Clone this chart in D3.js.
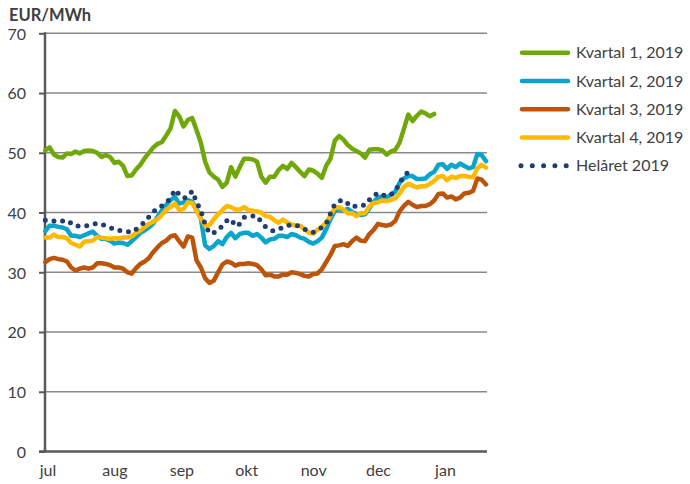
<!DOCTYPE html>
<html>
<head>
<meta charset="utf-8">
<script src="https://cdn.jsdelivr.net/npm/d3@7"></script>
<style>
  html, body { margin: 0; padding: 0; background: #fff; }
  svg { display: block; font-family: Lato, "Open Sans", sans-serif; }
</style>
</head>
<body>
<svg id="chart" width="690" height="484"></svg>
<script>
// Trading dates, every second day from 30 Jun 2019 to 20 Jan 2020
const dates = d3.timeDay.range(new Date(2019, 5, 30), new Date(2020, 0, 21), 2);

const monthTicks = [
  new Date(2019, 6, 1), new Date(2019, 7, 1), new Date(2019, 8, 1),
  new Date(2019, 9, 1), new Date(2019, 10, 1), new Date(2019, 11, 1),
  new Date(2020, 0, 1)
];
const monthLabels = ["jul", "aug", "sep", "okt", "nov", "dec", "jan"];
const yTicks = [0, 10, 20, 30, 40, 50, 60, 70];

const seriesNames = ["Kvartal 1, 2019", "Kvartal 2, 2019", "Kvartal 3, 2019", "Kvartal 4, 2019", "Helåret 2019"];

const kvartal1 = [
  50.4, 50.9, 49.7, 49.3, 49.2, 49.9, 49.8, 50.2, 49.9, 50.3,
  50.4, 50.3, 50.0, 49.3, 49.6, 49.3, 48.3, 48.5, 47.8, 46.1,
  46.2, 47.2, 48.0, 49.1, 50.0, 50.9, 51.5, 51.8, 52.9, 54.1,
  57.0, 56.1, 54.4, 55.5, 55.8, 53.8, 51.7, 48.5, 46.7, 46.0,
  45.5, 44.3, 45.0, 47.6, 46.0, 47.6, 49.0, 49.0, 48.9, 48.5,
  46.0, 45.0, 46.0, 46.0, 47.1, 47.8, 47.3, 48.3, 47.6, 46.8,
  46.1, 47.2, 47.0, 46.5, 45.8, 47.8, 49.0, 52.0, 52.8, 52.2,
  51.3, 50.7, 50.3, 49.9, 49.2, 50.5, 50.6, 50.6, 50.4, 49.7,
  50.2, 50.5, 51.7, 54.0, 56.4, 55.3, 56.2, 56.9, 56.6, 56.1,
  56.5, null, null, null, null, null, null, null, null, null,
  null, null, null
];

const kvartal2 = [
  36.9, 37.8, 37.8, 37.6, 37.5, 37.2, 36.1, 36.1, 35.9, 36.2,
  36.5, 36.8, 36.1, 35.6, 35.6, 35.3, 34.8, 35.0, 34.9, 34.6,
  35.2, 35.9, 36.6, 37.0, 37.5, 38.2, 39.3, 40.4, 41.3, 42.1,
  42.6, 41.5, 41.7, 42.1, 41.8, 40.6, 39.0, 34.5, 33.9, 34.4,
  35.2, 34.7, 35.9, 36.6, 35.7, 36.4, 36.6, 36.6, 36.1, 36.4,
  35.8, 35.0, 35.5, 35.6, 36.1, 36.1, 35.9, 36.4, 36.2, 35.8,
  35.6, 35.1, 34.8, 35.2, 35.8, 37.2, 38.9, 40.3, 40.6, 40.3,
  40.6, 40.1, 39.7, 39.6, 39.7, 40.7, 41.8, 42.5, 42.7, 42.5,
  43.0, 43.5, 45.0, 45.7, 46.1, 46.1, 45.6, 45.6, 45.7, 46.4,
  46.8, 48.0, 48.1, 47.3, 48.0, 47.6, 48.2, 47.8, 47.4, 47.6,
  49.8, 49.6, 48.6
];

const kvartal3 = [
  31.7, 32.2, 32.4, 32.2, 32.1, 31.8, 30.8, 30.3, 30.6, 30.8,
  30.6, 30.8, 31.5, 31.5, 31.4, 31.2, 30.8, 30.8, 30.6, 30.0,
  29.8, 30.7, 31.4, 31.8, 32.4, 33.4, 34.2, 34.9, 35.3, 36.0,
  36.2, 35.2, 34.3, 36.0, 35.8, 32.0, 30.8, 29.0, 28.2, 28.6,
  30.0, 31.3, 31.8, 31.6, 31.1, 31.4, 31.4, 31.5, 31.4, 31.2,
  30.5, 29.5, 29.6, 29.3, 29.3, 29.6, 29.6, 30.0, 29.9, 29.7,
  29.4, 29.3, 29.7, 29.8, 30.5, 31.7, 32.9, 34.4, 34.5, 34.7,
  34.4, 35.2, 35.8, 35.3, 35.2, 36.4, 37.1, 38.1, 37.9, 37.8,
  38.0, 38.6, 40.2, 41.1, 41.8, 41.3, 40.9, 41.1, 41.1, 41.4,
  42.0, 43.1, 43.2, 42.5, 42.7, 42.2, 42.5, 43.2, 43.3, 43.6,
  45.7, 45.5, 44.7
];

const kvartal4 = [
  35.8, 35.8, 36.3, 35.9, 35.9, 35.7, 34.9, 34.6, 34.3, 35.1,
  35.2, 35.3, 35.9, 35.8, 35.7, 35.6, 35.7, 35.7, 35.8, 35.8,
  36.0, 36.6, 37.0, 37.6, 38.1, 38.5, 38.9, 39.6, 40.5, 40.9,
  41.5, 40.4, 40.6, 41.7, 41.6, 40.3, 39.0, 37.8, 37.9, 38.9,
  39.7, 40.4, 41.1, 40.9, 40.5, 40.5, 40.9, 40.4, 40.3, 40.2,
  40.0, 39.4, 39.3, 38.7, 38.3, 38.8, 38.3, 38.0, 37.8, 37.8,
  37.2, 36.6, 36.5, 37.1, 37.6, 38.3, 39.5, 40.8, 40.9, 40.5,
  39.9, 39.9, 39.4, 39.9, 39.9, 41.0, 41.6, 41.7, 42.0, 41.9,
  42.1, 42.4, 43.2, 44.3, 44.8, 44.5, 44.2, 44.4, 44.4, 44.8,
  45.3, 46.0, 46.1, 45.4, 46.0, 45.8, 46.1, 46.1, 46.0, 45.9,
  47.4, 48.0, 47.5
];

const helaret = [
  38.7, 38.7, 38.6, 38.5, 38.6, 38.7, 38.2, 37.7, 37.8, 37.8,
  37.8, 38.0, 38.2, 38.0, 37.8, 37.5, 37.1, 37.0, 36.9, 36.8,
  36.7, 37.2, 37.8, 38.4, 39.3, 40.1, 40.8, 41.1, 41.7, 42.4,
  43.8, 43.0, 42.4, 42.7, 43.6, 41.8, 40.3, 38.0, 36.5, 36.6,
  37.0, 37.8, 38.6, 38.9, 37.7, 38.1, 39.2, 39.4, 39.4, 39.4,
  38.4, 37.6, 37.1, 36.9, 37.2, 37.5, 37.8, 38.0, 37.9, 37.6,
  37.2, 36.8, 36.7, 37.0, 37.5, 38.1, 39.8, 41.4, 41.9, 42.1,
  41.5, 40.9, 41.1, 41.3, 41.2, 42.1, 42.8, 43.3, 43.0, 42.7,
  43.0, 43.5, 45.0, 46.0, 46.8, 46.6, null, null, null, null,
  null, null, null, null, null, null, null, null, null, null,
  null, null, null
];

const series = [
  { name: seriesNames[0], values: kvartal1, color: "#70A80A", dotted: false },
  { name: seriesNames[1], values: kvartal2, color: "#0AA5CB", dotted: false },
  { name: seriesNames[2], values: kvartal3, color: "#BC5509", dotted: false },
  { name: seriesNames[3], values: kvartal4, color: "#FFBA00", dotted: false },
  { name: seriesNames[4], values: helaret, color: "#1F3D73", dotted: true }
];

const svg = d3.select("#chart");
const plotLeft = 45, plotRight = 487, plotTop = 33.3, plotBottom = 451.5;

const x = d3.scaleTime()
  .domain([new Date(2019, 5, 30), new Date(2020, 0, 20)])
  .range([45.3, 486]);
const y = d3.scaleLinear().domain([0, 70]).range([plotBottom, plotTop]);

// Horizontal gridlines
svg.append("g")
  .selectAll("line")
  .data(yTicks.filter(v => v > 0))
  .join("line")
  .attr("x1", plotLeft).attr("x2", plotRight)
  .attr("y1", d => y(d)).attr("y2", d => y(d))
  .attr("stroke", "#8a8a8a").attr("stroke-width", 1.5);

// Y axis with outward ticks
const yAxis = d3.axisLeft(y).tickValues(yTicks).tickSize(6).tickPadding(13).tickFormat(d3.format("d"));
const gy = svg.append("g").attr("transform", `translate(${plotLeft},0)`).call(yAxis);
gy.select(".domain").remove();
gy.selectAll(".tick line").attr("stroke", "#595959").attr("stroke-width", 2);
gy.selectAll(".tick text")
  .attr("fill", "#404040")
  .attr("dy", "0.36em")
  .style("font-size", "16px")
  .style("font-family", "Lato, 'Open Sans', sans-serif");

// Axis lines
svg.append("line").attr("x1", plotLeft).attr("x2", plotLeft).attr("y1", plotTop - 1).attr("y2", plotBottom)
  .attr("stroke", "#595959").attr("stroke-width", 2.5);
svg.append("line").attr("x1", plotLeft - 6).attr("x2", plotRight).attr("y1", plotBottom).attr("y2", plotBottom)
  .attr("stroke", "#595959").attr("stroke-width", 2.5);

// Month labels along the time axis
const xAxis = d3.axisBottom(x).tickValues(monthTicks).tickSize(0).tickPadding(13)
  .tickFormat((d, i) => monthLabels[i]);
const gx = svg.append("g").attr("transform", `translate(0,${plotBottom})`).call(xAxis);
gx.select(".domain").remove();
gx.selectAll(".tick text")
  .attr("fill", "#404040")
  .style("font-size", "16px")
  .style("font-family", "Lato, 'Open Sans', sans-serif");

// Unit label
svg.append("text")
  .attr("x", 9).attr("y", 21)
  .attr("fill", "#404040")
  .style("font-size", "16.5px").style("font-weight", "bold")
  .text("EUR/MWh");

// Series lines
const line = d3.line()
  .defined(d => d.v != null)
  .x(d => x(d.date))
  .y(d => y(d.v));

svg.append("g")
  .selectAll("path")
  .data(series)
  .join("path")
  .attr("d", s => line(dates.map((date, i) => ({ date, v: s.values[i] }))))
  .attr("fill", "none")
  .attr("stroke", s => s.color)
  .attr("stroke-width", s => s.dotted ? 5 : 4.5)
  .attr("stroke-linejoin", "round")
  .attr("stroke-linecap", "round")
  .attr("stroke-dasharray", s => s.dotted ? "0 8.7" : null);

// Legend
const legend = svg.append("g");
const legendY = d3.scalePoint().domain(seriesNames).range([52.7, 165.7]);
const items = legend.selectAll("g").data(series).join("g")
  .attr("transform", s => `translate(0,${legendY(s.name)})`);
items.append("line")
  .attr("x1", s => s.dotted ? 521 : 522).attr("x2", 568)
  .attr("stroke", s => s.color)
  .attr("stroke-width", s => s.dotted ? 5 : 4.5)
  .attr("stroke-linecap", "round")
  .attr("stroke-dasharray", s => s.dotted ? "0 11.3" : null);
items.append("text")
  .attr("x", 576).attr("dy", "0.35em")
  .attr("fill", "#404040")
  .style("font-size", "16px")
  .text(s => s.name);
</script>
</body>
</html>
